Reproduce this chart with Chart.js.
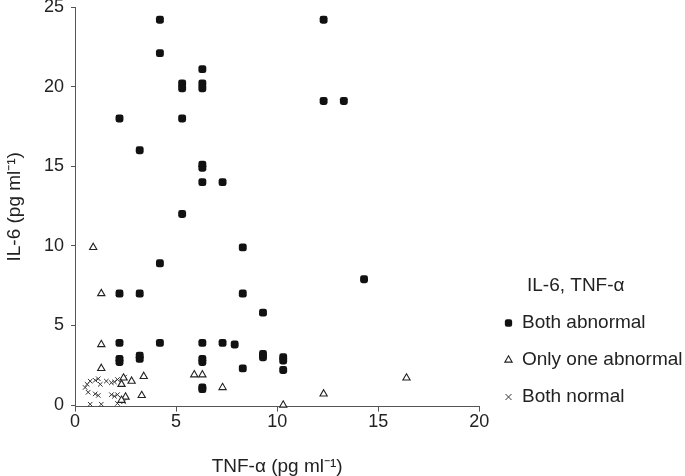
<!DOCTYPE html>
<html>
<head>
<meta charset="utf-8">
<script src="https://cdn.jsdelivr.net/npm/chart.js@4.4.0/dist/chart.umd.min.js"></script>
<style>
  html, body { margin: 0; padding: 0; background: #fff; }
  #wrap { width: 685px; height: 476px; }
</style>
</head>
<body>
<div id="wrap"><canvas id="chart" width="685" height="476"></canvas></div>
<script>
// tick labels and series
const xTicks = [0, 5, 10, 15, 20];
const yTicks = [0, 5, 10, 15, 20, 25];
const seriesNames = ['Both abnormal', 'Only one abnormal', 'Both normal'];

const bothAbnormalX = [4.2, 4.2, 2.2, 3.2, 5.3, 5.3, 6.3, 6.3, 6.3, 5.3, 6.3, 6.3, 6.3, 7.3, 12.3, 12.3, 13.3,
  5.3, 4.2, 2.2, 3.2, 8.3, 8.3, 2.2, 4.2, 3.2, 3.2, 2.2, 2.2, 6.3, 6.3, 6.3, 6.3, 6.3, 7.3, 7.9, 8.3,
  9.3, 14.3, 9.3, 9.3, 10.3, 10.3, 10.3];
const bothAbnormalY = [24.2, 22.1, 18.0, 16.0, 20.2, 19.9, 21.1, 20.2, 19.9, 18.0, 15.1, 14.9, 14.0, 14.0, 24.2, 19.1, 19.1,
  12.0, 8.9, 7.0, 7.0, 9.9, 7.0, 3.9, 3.9, 3.1, 2.9, 2.9, 2.7, 3.9, 2.9, 2.7, 1.1, 1.0, 3.9, 3.8, 2.3,
  5.8, 7.9, 3.2, 3.0, 3.0, 2.8, 2.2];

const oneAbnormalX = [0.9, 1.3, 1.3, 1.3, 5.9, 6.3, 7.3, 3.4, 2.8, 3.3, 2.5, 2.4, 2.3, 2.3, 12.3, 16.4, 10.3];
const oneAbnormalY = [9.9, 7.0, 3.8, 2.3, 1.9, 1.9, 1.1, 1.8, 1.5, 0.6, 0.5, 1.7, 1.3, 0.3, 0.7, 1.7, 0.0];

const bothNormalX = [0.6, 0.75, 1.0, 1.15, 1.25, 0.5, 0.65, 1.0, 1.15, 1.55, 1.8, 1.95, 2.1, 2.45, 1.8, 1.95,
  2.1, 2.3, 2.4, 0.75, 1.3, 2.1];
const bothNormalY = [1.3, 1.5, 1.55, 1.65, 1.3, 1.1, 0.8, 0.7, 0.6, 1.5, 1.4, 1.45, 1.6, 1.75, 0.65, 0.55,
  0.65, 0.4, 0.2, 0.05, 0.05, 0.1];

const FONT = "'Liberation Sans', Arial, Helvetica, sans-serif";
const TEXT = '#222';
const AXIS = '#555';

function toPoints(xs, ys) {
  return xs.map((x, i) => ({ x: x, y: ys[i] }));
}

// put the legend block where the original has it (beside the x axis end).
// width is only used to centre the title, right is what the legend clips to
const legendPlacer = {
  id: 'legendPlacer',
  afterLayout(chart) {
    const lg = chart.legend;
    lg.left = 486.5;
    lg.width = 178.5;
    lg.right = chart.width;
    lg.top = chart.chartArea.top;
    lg.bottom = 424.5;
    lg.height = lg.bottom - lg.top;
  }
};

const ctx = document.getElementById('chart').getContext('2d');
new Chart(ctx, {
  type: 'scatter',
  data: {
    datasets: [
      {
        label: seriesNames[0],
        data: toPoints(bothAbnormalX, bothAbnormalY),
        pointStyle: 'rectRounded',
        radius: 4.6,
        backgroundColor: '#111',
        borderColor: '#111',
        borderWidth: 0,
        clip: false
      },
      {
        label: seriesNames[1],
        data: toPoints(oneAbnormalX, oneAbnormalY),
        pointStyle: 'triangle',
        radius: 4.2,
        backgroundColor: '#fff',
        borderColor: '#222',
        borderWidth: 1.1,
        clip: false
      },
      {
        label: seriesNames[2],
        data: toPoints(bothNormalX, bothNormalY),
        pointStyle: 'crossRot',
        radius: 3.2,
        backgroundColor: '#333',
        borderColor: '#333',
        borderWidth: 1,
        clip: false
      }
    ]
  },
  options: {
    responsive: false,
    animation: false,
    devicePixelRatio: 1,
    layout: { padding: { left: 0, right: 46, top: 0, bottom: 0 } },
    plugins: {
      tooltip: { enabled: false },
      legend: {
        position: 'right',
        align: 'end',
        fullSize: false,
        title: {
          display: true,
          text: 'IL-6, TNF-α',
          position: 'center',
          color: TEXT,
          font: { family: FONT, size: 19, lineHeight: 1 },
          padding: 0
        },
        labels: {
          usePointStyle: true,
          boxWidth: 8,
          boxHeight: 6,
          padding: 18,
          color: TEXT,
          font: { family: FONT, size: 19 }
        }
      }
    },
    scales: {
      x: {
        type: 'linear',
        min: 0,
        max: 20,
        afterBuildTicks: (scale) => { scale.ticks = xTicks.map(v => ({ value: v })); },
        grid: { display: true, drawOnChartArea: false, drawTicks: true, tickLength: 5, color: AXIS },
        border: { display: true, color: AXIS, width: 1 },
        ticks: { padding: 0, color: TEXT, maxRotation: 0, font: { family: FONT, size: 18 } },
        title: {
          display: true,
          text: 'TNF-α (pg ml⁻¹)',
          color: TEXT,
          font: { family: FONT, size: 19 },
          padding: { top: 22, bottom: -2 }
        }
      },
      y: {
        type: 'linear',
        min: -0.1,
        max: 25,
        afterBuildTicks: (scale) => { scale.ticks = yTicks.map(v => ({ value: v })); },
        grid: { display: true, drawOnChartArea: false, drawTicks: true, tickLength: 4, color: AXIS },
        border: { display: true, color: AXIS, width: 1 },
        ticks: { padding: 7, color: TEXT, font: { family: FONT, size: 18, lineHeight: 0 } },
        title: {
          display: true,
          text: 'IL-6 (pg ml⁻¹)',
          color: TEXT,
          font: { family: FONT, size: 19 },
          padding: { top: 3.6, bottom: 10.6 }
        }
      }
    }
  },
  plugins: [legendPlacer]
});
</script>
</body>
</html>
